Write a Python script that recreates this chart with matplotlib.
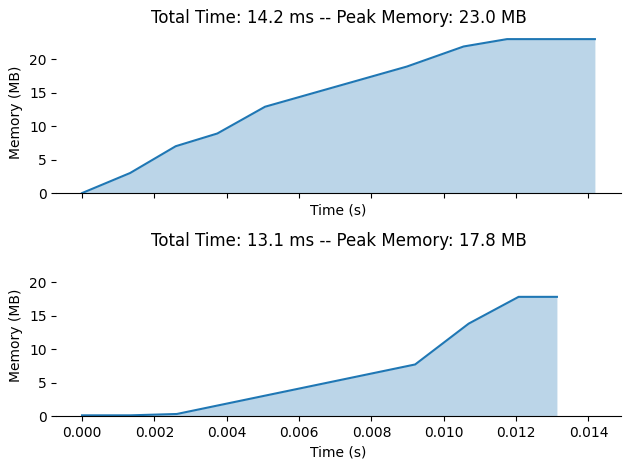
import matplotlib
matplotlib.use('Agg')
import matplotlib.pyplot as plt

# run 1
t1 = [0.0, 0.00133, 0.00259, 0.00374, 0.00506, 0.00898, 0.01055, 0.01175, 0.01418]
m1 = [0.0, 3.0, 7.0, 8.9, 12.9, 18.9, 21.9, 23.0, 23.0]

# run 2
t2 = [0.0, 0.00133, 0.00262, 0.00921, 0.01069, 0.01207, 0.01313]
m2 = [0.1, 0.1, 0.3, 7.7, 13.8, 17.8, 17.8]

runs = [(t1, m1, 14.2, 23.0), (t2, m2, 13.1, 17.8)]

fig, axes = plt.subplots(2, 1, sharex=True, sharey=True, figsize=(6.3, 4.69), dpi=100)

for ax, (t, m, total, peak) in zip(axes, runs):
    ax.plot(t, m, color='tab:blue')
    ax.fill_between(t, m, alpha=0.3, color='tab:blue', linewidth=0)
    ax.set_title(f'Total Time: {total} ms -- Peak Memory: {peak} MB')
    ax.set_xlabel('Time (s)')
    ax.set_ylabel('Memory (MB)')
    for s in ['left', 'top', 'right']:
        ax.spines[s].set_visible(False)

axes[0].set_ylim(bottom=0)
plt.subplots_adjust(left=0.0895, right=0.985, top=0.933, bottom=0.113, hspace=0.379)
plt.savefig('out.png')
